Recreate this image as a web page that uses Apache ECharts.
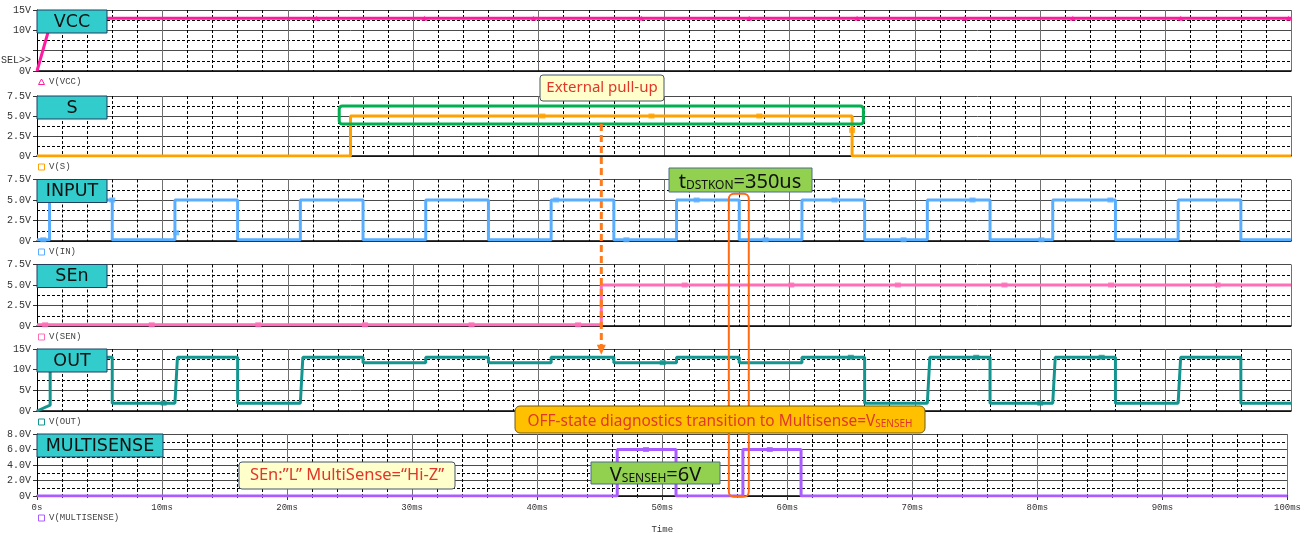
<!DOCTYPE html>
<html>
<head>
<meta charset="utf-8">
<script src="https://cdn.jsdelivr.net/npm/echarts@6/dist/echarts.min.js"></script>
<style>
  html, body { margin: 0; padding: 0; background: #fff; }
  #chart { width: 1304px; height: 533px; }
</style>
</head>
<body>
<div id="chart"></div>
<script>
// ---- Waveforms: [time in ms, volts] ----
const vccWave = [[0, 0], [1.2, 13], [100, 13]];
const sWave = [[0, 0], [25, 0], [25, 5], [65, 5], [65, 0], [100, 0]];
const inWave = [
  [0, 0.15], [1, 0.15], [1, 5], [6, 5], [6, 0.15], [11, 0.15], [11, 5], [16, 5], [16, 0.15],
  [21, 0.15], [21, 5], [26, 5], [26, 0.15], [31, 0.15], [31, 5], [36, 5], [36, 0.15],
  [41, 0.15], [41, 5], [46, 5], [46, 0.15], [51, 0.15], [51, 5], [56, 5], [56, 0.15],
  [61, 0.15], [61, 5], [66, 5], [66, 0.15], [71, 0.15], [71, 5], [76, 5], [76, 0.15],
  [81, 0.15], [81, 5], [86, 5], [86, 0.15], [91, 0.15], [91, 5], [96, 5], [96, 0.15], [100, 0.15]
];
const senWave = [[0, 0.15], [45, 0.15], [45, 5], [100, 5]];
const outWave = [
  [0, 0], [1.05, 1.4], [1.05, 13], [6, 13], [6, 1.9], [11, 1.9], [11.2, 13], [16, 13], [16, 1.9],
  [21, 1.9], [21.2, 13], [26, 13], [26, 11.7], [31, 11.7], [31, 13], [36, 13], [36, 11.7],
  [41, 11.7], [41, 13], [46, 13], [46, 11.7], [51, 11.7], [51, 13], [56, 13], [56, 11.7],
  [61, 11.7], [61, 13], [66, 13], [66, 1.9], [71, 1.9], [71.2, 13], [76, 13], [76, 1.9],
  [81, 1.9], [81.2, 13], [86, 13], [86, 1.9], [91, 1.9], [91.2, 13], [96, 13], [96, 1.9], [100, 1.9]
];
const msWave = [
  [0, 0], [46.4, 0], [46.4, 6], [51.1, 6], [51.1, 0], [56.45, 0], [56.45, 6], [61.1, 6], [61.1, 0], [100, 0]
];

// Trace marker points (PSpice-style symbols along each trace)
const vccMarks = [[22.3, 13], [30.9, 13], [39.6, 13], [48.2, 13], [56.8, 13], [65.4, 13], [74.0, 13], [82.6, 13], [91.2, 13], [99.8, 13]];
const sMarks = [[40.3, 5], [49.0, 5], [57.6, 5], [65.0, 3.2]];
const inMarks = [[0.5, 0.15], [6.0, 5], [11.1, 1.0], [41.4, 5], [47.0, 0.15], [52.6, 5], [58.1, 0.15], [63.6, 5], [69.1, 0.15], [74.6, 5], [80.1, 0.15], [85.6, 5]];
const senMarks = [[0.65, 0.15], [9.15, 0.15], [17.65, 0.15], [26.15, 0.15], [34.65, 0.15], [43.15, 0.15], [51.65, 5], [60.15, 5], [68.65, 5], [77.15, 5], [85.65, 5], [94.15, 5]];
const outMarks = [[10.1, 1.9], [49.9, 11.7], [64.9, 13], [74.9, 13], [80.0, 1.9], [84.9, 13]];
const msMarks = [[48.7, 6], [58.6, 6]];

// ---- Panels ----
const panelTitles = ['VCC', 'S', 'INPUT', 'SEn', 'OUT', 'MULTISENSE'];
const traceNames = ['V(VCC)', 'V(S)', 'V(IN)', 'V(SEN)', 'V(OUT)', 'V(MULTISENSE)'];
const yMax = [15, 7.5, 7.5, 7.5, 15, 8];
const yStep = [5, 2.5, 2.5, 2.5, 5, 2];
const yTickLabels = [
  { 0: '0V', 5: '', 10: '10V', 15: '15V' },
  { 0: '0V', 2.5: '2.5V', 5: '5.0V', 7.5: '7.5V' },
  { 0: '0V', 2.5: '2.5V', 5: '5.0V', 7.5: '7.5V' },
  { 0: '0V', 2.5: '2.5V', 5: '5.0V', 7.5: '7.5V' },
  { 0: '0V', 5: '5V', 10: '10V', 15: '15V' },
  { 0: '0V', 2: '2.0V', 4: '4.0V', 6: '6.0V', 8: '8.0V' }
];
const waves = [vccWave, sWave, inWave, senWave, outWave, msWave];
const marks = [vccMarks, sMarks, inMarks, senMarks, outMarks, msMarks];
const traceColors = ['#ff1aa0', '#ffa200', '#5aaeff', '#ff6eb8', '#15958f', '#a95cff'];
const markSymbols = ['triangle', 'rect', 'rect', 'rect', 'rect', 'rect'];

const gridTop = [10, 96, 179.5, 264.5, 349, 434];
const gridH = [61, 60, 61.5, 61.5, 62, 62];
const LEFT = 37, RIGHT = 13;

const monoFont = '"Liberation Mono", "DejaVu Sans Mono", monospace';

const grids = [], xAxes = [], yAxes = [], series = [];
for (let i = 0; i < 6; i++) {
  const last = i === 5;
  grids.push({ left: LEFT, right: RIGHT, top: gridTop[i], height: gridH[i], show: false });
  xAxes.push({
    type: 'value', gridIndex: i, min: 0, max: 100, interval: 10,
    axisLine: { show: true, onZero: false, lineStyle: { color: '#000', width: 1.5 } },
    axisTick: { show: last, length: 4, inside: false, lineStyle: { color: '#333' } },
    minorTick: { show: last, splitNumber: 5, length: 2, lineStyle: { color: '#333' } },
    axisLabel: {
      show: last, margin: 7, fontFamily: monoFont, fontSize: 9, color: '#333',
      formatter: v => (v === 0 ? '0s' : v + 'ms')
    },
    splitLine: { show: true, lineStyle: { color: '#707070', width: 1 } },
    minorSplitLine: { show: true, lineStyle: { color: '#000', width: 1, type: [3, 2] } }
  });
  const lbl = yTickLabels[i];
  yAxes.push({
    type: 'value', gridIndex: i, min: 0, max: yMax[i], interval: yStep[i],
    axisLine: { show: true, lineStyle: { color: '#000', width: 1 } },
    axisTick: { show: true, length: 4, lineStyle: { color: '#333' } },
    minorTick: { show: false, splitNumber: 2 },
    axisLabel: {
      margin: 6, fontFamily: monoFont, fontSize: 10, color: '#333',
      formatter: v => (lbl[v] !== undefined ? lbl[v] : '')
    },
    splitLine: { show: true, lineStyle: { color: '#4a4a4a', width: 1 } },
    minorSplitLine: { show: true, lineStyle: { color: '#000', width: 1, type: [3, 2] } }
  });
  series.push({
    type: 'line', name: traceNames[i], xAxisIndex: i, yAxisIndex: i, data: waves[i],
    showSymbol: false, silent: true, z: 3,
    lineStyle: { color: traceColors[i], width: 3 }
  });
  series.push({
    type: 'scatter', xAxisIndex: i, yAxisIndex: i, data: marks[i], silent: true, z: 4,
    symbol: markSymbols[i], symbolSize: [6, 5],
    itemStyle: { color: traceColors[i] }
  });
}

const chart = echarts.init(document.getElementById('chart'), null, { renderer: 'canvas' });
chart.setOption({
  animation: false,
  backgroundColor: '#fff',
  grid: grids, xAxis: xAxes, yAxis: yAxes, series: series
});

// ---- Annotations ----
const pullUpSpan = [24.1, 65.9];      // ms, framed on the S panel
const pullUpBand = [4.0, 6.25];       // V on the S panel
const senEnableAt = 45;               // ms, SEn goes high
const senArrowFrom = 4.0;             // V on the S panel
const senArrowTo = 13.6;              // V on the OUT panel
const dstkonSpan = [55.17, 56.92];    // ms, framed from INPUT to MULTISENSE
const dstkonTop = 5.77;               // V on the INPUT panel
const dstkonBottom = -0.1;            // V on the MULTISENSE panel

const P = (g, t, v) => chart.convertToPixel({ gridIndex: g }, [t, v]);
const g = [];

// small panel title boxes
const titleW = [70, 70, 70, 70, 70, 126];
for (let i = 0; i < 6; i++) {
  g.push({
    type: 'rect', z: 20,
    shape: { x: LEFT, y: gridTop[i], width: titleW[i], height: 23 },
    style: { fill: '#33cccc', stroke: '#1f3f5f', lineWidth: 1 }
  });
  g.push({
    type: 'text', z: 21, x: LEFT + titleW[i] / 2, y: gridTop[i] + 12,
    style: { text: panelTitles[i], fill: '#111', font: '17.5px "DejaVu Sans", sans-serif', align: 'center', verticalAlign: 'middle' }
  });
  // trace legend under each panel
  const ly = gridTop[i] + gridH[i] + (i === 5 ? 22 : 11);
  if (markSymbols[i] === 'triangle') {
    g.push({ type: 'polygon', z: 20, shape: { points: [[41.5, ly - 3], [38.5, ly + 2.5], [44.5, ly + 2.5]] },
      style: { fill: 'none', stroke: traceColors[i], lineWidth: 1 } });
  } else {
    g.push({ type: 'rect', z: 20, shape: { x: 38.5, y: ly - 3, width: 6, height: 6 },
      style: { fill: 'none', stroke: traceColors[i], lineWidth: 1 } });
  }
  g.push({
    type: 'text', z: 20, x: 49, y: ly,
    style: { text: traceNames[i], fill: '#444', font: '9px ' + monoFont, align: 'left', verticalAlign: 'middle' }
  });
}

// selection marker on the VCC plot
const selPos = P(0, 0, 2.5);
g.push({ type: 'text', z: 20, x: 31, y: selPos[1],
  style: { text: 'SEL>>', fill: '#333', font: '10px ' + monoFont, align: 'right', verticalAlign: 'middle' } });

// time axis title
g.push({ type: 'text', z: 20, x: P(5, 50, 0)[0], y: 530,
  style: { text: 'Time', fill: '#333', font: '9px ' + monoFont, align: 'center', verticalAlign: 'middle' } });

// external pull-up frame on S
const pu0 = P(1, pullUpSpan[0], pullUpBand[1]);
const pu1 = P(1, pullUpSpan[1], pullUpBand[0]);
g.push({ type: 'rect', z: 10, shape: { x: pu0[0], y: pu0[1], width: pu1[0] - pu0[0], height: pu1[1] - pu0[1], r: 3 },
  style: { fill: 'none', stroke: '#00b050', lineWidth: 3 } });

// dashed arrow: SEn enable
const a0 = P(1, senEnableAt, senArrowFrom);
const a1 = P(4, senEnableAt, senArrowTo);
g.push({ type: 'line', z: 10, shape: { x1: a0[0], y1: a0[1], x2: a1[0], y2: a1[1] - 9 },
  style: { stroke: '#ff7a1a', lineWidth: 3, lineDash: [7, 4] } });
g.push({ type: 'polygon', z: 10, shape: { points: [[a1[0] - 4.5, a1[1] - 10], [a1[0] + 4.5, a1[1] - 10], [a1[0], a1[1]]] },
  style: { fill: '#ff7a1a' } });

// tDSTKON frame
const d0 = P(2, dstkonSpan[0], dstkonTop);
const d1 = P(5, dstkonSpan[1], dstkonBottom);
g.push({ type: 'rect', z: 10, shape: { x: d0[0], y: d0[1], width: d1[0] - d0[0], height: d1[1] - d0[1], r: 5 },
  style: { fill: 'none', stroke: '#ff6a13', lineWidth: 2 } });

// callout boxes
function box(x, y, w, h, fill, stroke, r) {
  g.push({ type: 'rect', z: 30, shape: { x: x, y: y, width: w, height: h, r: r },
    style: { fill: fill, stroke: stroke, lineWidth: 1 } });
}
function label(x, y, text, rich, fill, font) {
  const style = { text: text, fill: fill, align: 'center', verticalAlign: 'middle' };
  if (rich) style.rich = rich;
  if (font) style.font = font;
  g.push({ type: 'text', z: 31, x: x, y: y, style: style });
}
const noto = '"Noto Sans", "DejaVu Sans", sans-serif';

box(540, 75, 124, 26, '#ffffcc', '#44546a', 3);
label(602, 88, 'External pull-up', null, '#e0372a', '15px ' + noto);

box(669, 168, 143, 24, '#92d050', '#4a6d8c', 0);
label(740, 180, '{a|t}{s|DSTKON}{a|=350us}', {
  a: { fontSize: 20, fontFamily: noto, fill: '#111', verticalAlign: 'bottom', lineHeight: 24 },
  s: { fontSize: 12, fontFamily: noto, fill: '#111', verticalAlign: 'bottom', lineHeight: 18 }
}, '#111');

box(515, 406, 410, 27, '#ffc000', '#6f5a1a', 5);
label(720, 419.5, '{a|OFF-state diagnostics transition to Multisense=V}{s|SENSEH}', {
  a: { fontSize: 15.4, fontFamily: noto, fill: '#e0372a', verticalAlign: 'bottom', lineHeight: 20 },
  s: { fontSize: 10, fontFamily: noto, fill: '#e0372a', verticalAlign: 'bottom', lineHeight: 15 }
}, '#e0372a');

box(591, 462, 129, 22, '#92d050', '#4a6d8c', 0);
label(655.5, 473, '{a|V}{s|SENSEH}{a|=6V}', {
  a: { fontSize: 20, fontFamily: noto, fill: '#111', verticalAlign: 'bottom', lineHeight: 24 },
  s: { fontSize: 12, fontFamily: noto, fill: '#111', verticalAlign: 'bottom', lineHeight: 18 }
}, '#111');

box(239, 462, 216, 27, '#ffffcc', '#44546a', 3);
label(347, 475.5, 'SEn:\u201dL\u201d MultiSense=\u201cHi-Z\u201d', null, '#e0372a', '16.5px ' + noto);

chart.setOption({ graphic: { elements: g } });
</script>
</body>
</html>
